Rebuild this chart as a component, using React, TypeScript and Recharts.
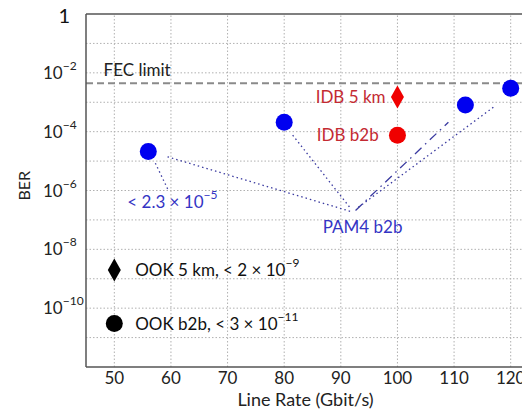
import { ScatterChart, Scatter, XAxis, YAxis, ReferenceLine, ReferenceDot } from "recharts"

// ─── Data ─────────────────────────────────────────────────────────────────────

const xTicks = [50, 60, 70, 80, 90, 100, 110, 120]
const yTicks = [1, 1e-1, 1e-2, 1e-3, 1e-4, 1e-5, 1e-6, 1e-7, 1e-8, 1e-9, 1e-10, 1e-11, 1e-12]
const labeledExps = [0, -2, -4, -6, -8, -10]

const pam4Rate = [56, 80, 112, 120]
const pam4Ber = [2.1e-5, 2.1e-4, 8e-4, 3e-3]

const idb5kmRate = [100]
const idb5kmBer = [1.5e-3]
const idbB2bRate = [100]
const idbB2bBer = [7.6e-5]

const ook5kmRate = [50]
const ook5kmBer = [2e-9]
const ookB2bRate = [50]
const ookB2bBer = [3e-11]

const fecLimit = 4.4e-3

// leader lines from the labels to the points, in data units
const leaderLines = [
  { from: [57.25, 8.5e-6], to: [59.55, 1.0e-6], dash: "1.5 3" },
  { from: [59.4, 1.4e-5], to: [92.1, 1.85e-7], dash: "1.5 3" },
  { from: [81.5, 7.6e-5], to: [91.7, 2.5e-7], dash: "1.5 3" },
  { from: [92.6, 2.1e-7], to: [109.0, 2.1e-4], dash: "9 5 1.5 5" },
  { from: [93.1, 2.7e-7], to: [117.0, 6.9e-4], dash: "1.5 3" },
]

const notes = [
  { x: 48.1, y: 1.24e-2, text: "FEC limit", sup: "", color: "#222", anchor: "start" },
  { x: 97.9, y: 1.5e-3, text: "IDB 5 km", sup: "", color: "#c42a32", anchor: "end" },
  { x: 96.7, y: 7.6e-5, text: "IDB b2b", sup: "", color: "#c42a32", anchor: "end" },
  { x: 52.3, y: 4e-7, text: "< 2.3 × 10", sup: "−5", color: "#3434c4", anchor: "start" },
  { x: 86.8, y: 5.7e-8, text: "PAM4 b2b", sup: "", color: "#3434c4", anchor: "start" },
  { x: 53.7, y: 2e-9, text: "OOK 5 km, < 2 × 10", sup: "−9", color: "#111", anchor: "start" },
  { x: 53.7, y: 3e-11, text: "OOK b2b, < 3 × 10", sup: "−11", color: "#111", anchor: "start" },
]

const toPoints = (xs: number[], ys: number[]) => xs.map((x, i) => ({ x, y: ys[i] }))

const FONT = "Lato, 'Open Sans', sans-serif"

// ─── Shapes / ticks ───────────────────────────────────────────────────────────

function Dot(color: string) {
  return (p: any) => <circle cx={p.cx} cy={p.cy} r={8.5} fill={color} />
}

function Diamond(color: string) {
  return (p: any) => (
    <polygon
      points={`${p.cx},${p.cy - 11.5} ${p.cx + 6.5},${p.cy} ${p.cx},${p.cy + 11.5} ${p.cx - 6.5},${p.cy}`}
      fill={color}
    />
  )
}

function YTick(props: any) {
  const { y, payload } = props
  const exp = Math.round(Math.log10(payload.value))
  if (!labeledExps.includes(exp)) return null
  if (exp === 0) {
    return (
      <text x={62} y={y} dy={9} textAnchor="end" fontSize={20} fill="#111" fontFamily={FONT}>1</text>
    )
  }
  return (
    <text x={35} y={y} dy={6} fontSize={17} fill="#222" fontFamily={FONT}>
      10<tspan dy={-9} fontSize={12}>{`−${-exp}`}</tspan>
    </text>
  )
}

function XTick(props: any) {
  const { x, y, payload } = props
  return (
    <text x={x} y={y} dy={17} textAnchor="middle" fontSize={17} fill="#222" fontFamily={FONT}>
      {payload.value}
    </text>
  )
}

function Note(n: (typeof notes)[number]) {
  return (p: any) => (
    <text x={p.cx} y={p.cy} dy={6} textAnchor={n.anchor} fontSize={17} fill={n.color} fontFamily={FONT}>
      {n.text}
      {n.sup && <tspan dy={-9} fontSize={12}>{n.sup}</tspan>}
    </text>
  )
}

// ─── Chart ────────────────────────────────────────────────────────────────────

export default function App() {
  return (
    <div style={{ width: 522, overflow: "hidden", marginTop: -8 }}>
      <ScatterChart width={531} height={410} margin={{ top: 14, right: 0, left: 0, bottom: 0 }}>
        <XAxis
          type="number"
          dataKey="x"
          domain={[45, 125]}
          ticks={xTicks}
          allowDataOverflow
          tickSize={0}
          tickMargin={0}
          height={43}
          axisLine={{ stroke: "#555", strokeWidth: 1.5 }}
          tick={<XTick />}
          label={{ value: "Line Rate (Gbit/s)", position: "insideBottom", offset: 4, dx: -7, fontSize: 18, fill: "#222", fontFamily: FONT }}
        />
        <YAxis
          type="number"
          dataKey="y"
          scale="log"
          domain={[1e-12, 1]}
          ticks={yTicks}
          allowDataOverflow
          width={78}
          tickSize={0}
          tickMargin={0}
          axisLine={{ stroke: "#555", strokeWidth: 1.5 }}
          tick={<YTick />}
          interval={0}
          label={{ value: "BER", angle: -90, position: "insideLeft", offset: 16, dy: 10, fontSize: 16, fill: "#222", fontFamily: FONT }}
        />
        {xTicks.map((v) => (
          <ReferenceLine key={`gx${v}`} x={v} stroke="#b0b0b0" strokeWidth={1} strokeDasharray="1.5 2" />
        ))}
        {yTicks.slice(1, -1).map((v) => (
          <ReferenceLine key={`gy${v}`} y={v} stroke="#b0b0b0" strokeWidth={1} strokeDasharray="1.5 2" />
        ))}
        <ReferenceLine y={1} stroke="#555" strokeWidth={1.5} />
        <ReferenceLine y={fecLimit} stroke="#8a8a8a" strokeWidth={2} strokeDasharray="7 4" />
        {leaderLines.map((l, i) => (
          <ReferenceLine
            key={i}
            segment={[{ x: l.from[0], y: l.from[1] }, { x: l.to[0], y: l.to[1] }]}
            stroke="#3a3aa0"
            strokeWidth={1.3}
            strokeDasharray={l.dash}
          />
        ))}
        <Scatter data={toPoints(pam4Rate, pam4Ber)} shape={Dot("#0000f0")} isAnimationActive={false} />
        <Scatter data={toPoints(idb5kmRate, idb5kmBer)} shape={Diamond("#f00000")} isAnimationActive={false} />
        <Scatter data={toPoints(idbB2bRate, idbB2bBer)} shape={Dot("#f00000")} isAnimationActive={false} />
        <Scatter data={toPoints(ook5kmRate, ook5kmBer)} shape={Diamond("#000")} isAnimationActive={false} />
        <Scatter data={toPoints(ookB2bRate, ookB2bBer)} shape={Dot("#000")} isAnimationActive={false} />
        {notes.map((n, i) => (
          <ReferenceDot key={i} x={n.x} y={n.y} r={0} shape={Note(n)} />
        ))}
      </ScatterChart>
    </div>
  )
}
